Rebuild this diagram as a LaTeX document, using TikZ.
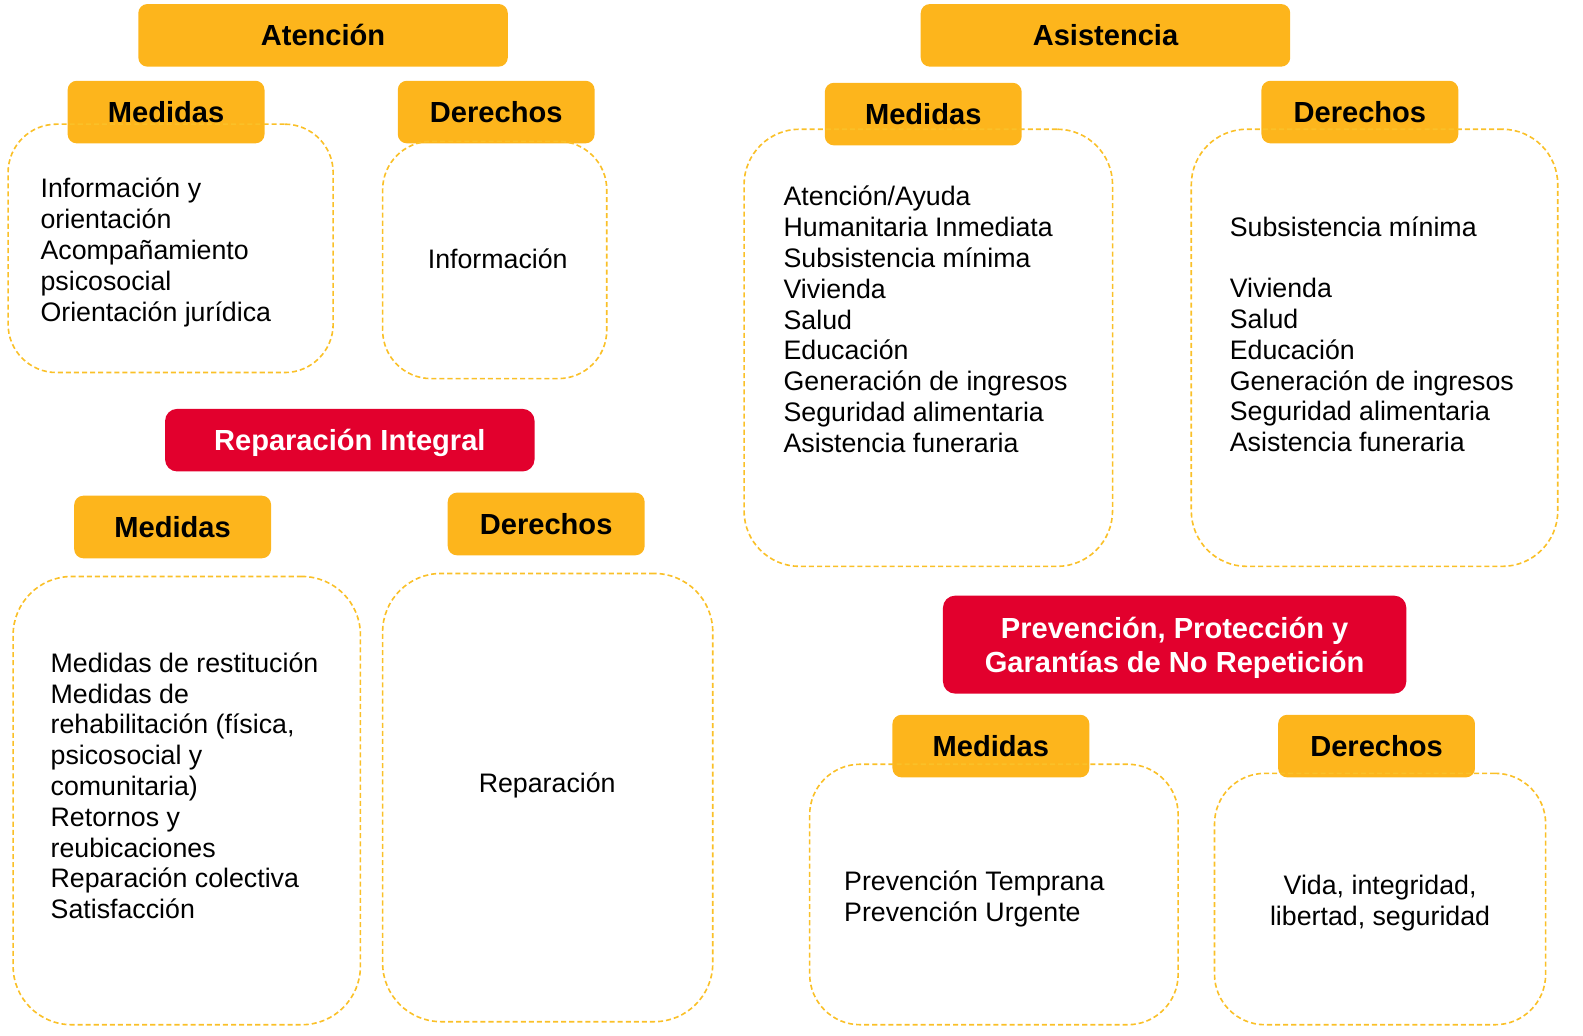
\documentclass[tikz,border=0pt]{standalone}
\usepackage{fontspec}
\setmainfont{Liberation Sans}
\definecolor{tabor}{RGB}{253,181,28}
\definecolor{tabred}{RGB}{226,0,45}
\definecolor{dashor}{RGB}{250,192,40}
\tikzset{
  x=1pt,y=-1pt,
  tabbox/.style={fill=tabor,draw=none,rounded corners=9pt,minimum width=195pt,minimum height=62pt,
    font=\fontsize{28.8}{33}\selectfont\bfseries,text height=20.6pt,text depth=0pt,inner sep=0pt},
  titlebox/.style={tabbox,minimum width=366pt},
  redbox/.style={fill=tabred,draw=none,rounded corners=12pt,text=white,inner sep=0pt,
    font=\fontsize{28.8}{34}\selectfont\bfseries},
  dbox/.style={draw=dashor,line width=1.6pt,dash pattern=on 5pt off 3pt,rounded corners=48pt,inner sep=0pt},
  body/.style={font=\fontsize{26.5}{30.5}\selectfont,inner sep=0pt,align=left,anchor=base west},
  bodyc/.style={font=\fontsize{26.5}{30.5}\selectfont,inner sep=0pt,align=center,anchor=base},
}
\begin{document}
\begin{tikzpicture}
\useasboundingbox (0,0) rectangle (1568,1026);
% ---------- Atención ----------
\node[titlebox] (at) at (320,35) {Atención};
\node[tabbox] (atm) at (164.5,111) {Medidas};
\node[tabbox] (atd) at (491.5,111) {Derechos};
\node[dbox,minimum width=322pt,minimum height=246pt] (atmb) at (169,246) {};
\node[dbox,minimum width=222pt,minimum height=235pt] (atdb) at (490,257.5) {};
% anchor = baseline of the last line
\node[body] (atmt) at (40,318) {Información y\\orientación\\Acompañamiento\\psicosocial\\Orientación jurídica};
\node[bodyc] (atdt) at (493,266) {Información};
% ---------- Reparación Integral ----------
\node[redbox,minimum width=366pt,minimum height=62pt,text height=20.6pt,text depth=0pt] (ri) at (346.5,436) {Reparación Integral};
\node[tabbox] (rim) at (171,522) {Medidas};
\node[tabbox] (rid) at (541,519) {Derechos};
\node[dbox,rounded corners=58pt,minimum width=344pt,minimum height=444pt] (rimb) at (185,793) {};
\node[dbox,rounded corners=58pt,minimum width=327pt,minimum height=444pt] (ridb) at (542.5,790) {};
\node[body] (rimt) at (50,910) {Medidas de restitución\\Medidas de\\rehabilitación (física,\\psicosocial y\\comunitaria)\\Retornos y\\reubicaciones\\Reparación colectiva\\Satisfacción};
\node[bodyc] (ridt) at (542,785) {Reparación};
% ---------- Asistencia ----------
\node[titlebox] (as) at (1095,35) {Asistencia};
\node[tabbox] (asm) at (914.5,113) {Medidas};
\node[tabbox] (asd) at (1347,111) {Derechos};
\node[dbox,rounded corners=55pt,minimum width=365pt,minimum height=433pt] (asmb) at (919.5,344.5) {};
\node[dbox,rounded corners=55pt,minimum width=363pt,minimum height=433pt] (asdb) at (1361.5,344.5) {};
\node[body] (asmt) at (776,448) {Atención/Ayuda\\Humanitaria Inmediata\\Subsistencia mínima\\Vivienda\\Salud\\Educación\\Generación de ingresos\\Seguridad alimentaria\\Asistencia funeraria};
\node[body] (asdt) at (1218,447.5) {Subsistencia mínima\\[30.5pt]Vivienda\\Salud\\Educación\\Generación de ingresos\\Seguridad alimentaria\\Asistencia funeraria};
% ---------- Prevención ----------
\node[redbox,minimum width=459pt,minimum height=97pt] (pp) at (1163.5,638.5) {};
\node[font=\fontsize{28.8}{34}\selectfont\bfseries,text=white,align=center,anchor=base,inner sep=0pt] (ppt) at (1163.5,666) {Prevención, Protección y\\Garantías de No Repetición};
\node[tabbox] (ppm) at (981.5,739) {Medidas};
\node[tabbox] (ppd) at (1363.5,739) {Derechos};
\node[dbox,rounded corners=50pt,minimum width=365pt,minimum height=258pt] (ppmb) at (984.5,886) {};
\node[dbox,rounded corners=50pt,minimum width=328pt,minimum height=249pt] (ppdb) at (1367,890.5) {};
\node[body] (ppmt) at (836,912.5) {Prevención Temprana\\Prevención Urgente};
\node[bodyc] (ppdt) at (1367,916.5) {Vida, integridad,\\libertad, seguridad};
\end{tikzpicture}
\end{document}
